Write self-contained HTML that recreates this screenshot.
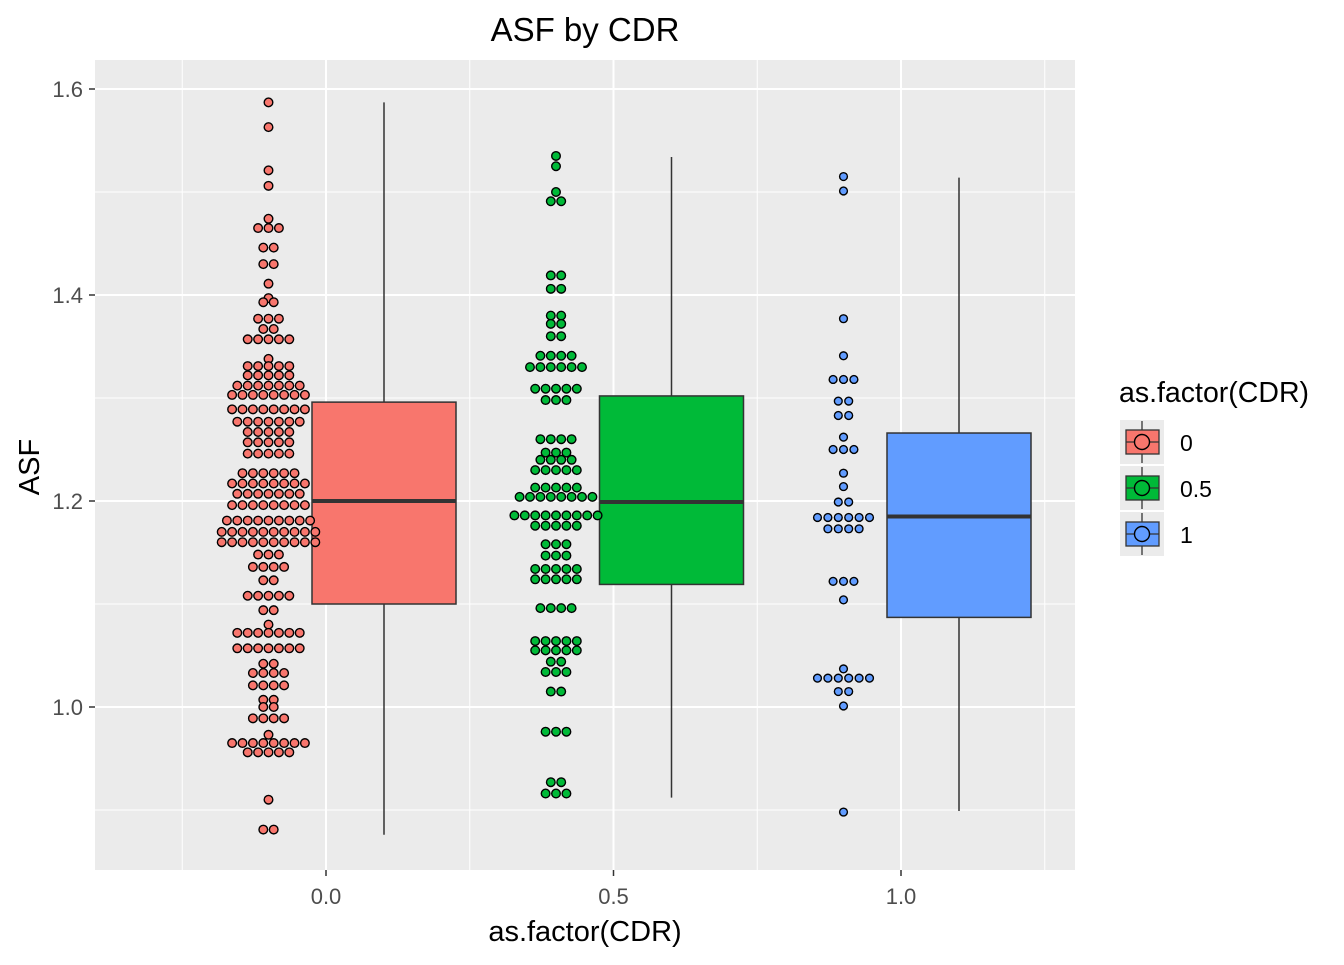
<!DOCTYPE html>
<html><head><meta charset="utf-8"><style>
body{margin:0;background:#fff}
svg{font-family:"Liberation Sans",Arial,sans-serif}
</style></head><body>
<svg id="chart" width="1344" height="960">
<rect x="0" y="0" width="1344" height="960" fill="#fff"/>
<rect x="95" y="60" width="980" height="810" fill="#ebebeb"/>
<g id="grid"></g><g id="marks"></g><g id="axes"></g>
<text x="585" y="41" font-size="33" text-anchor="middle" fill="#000">ASF by CDR</text>
<text x="585" y="941" font-size="29" text-anchor="middle" fill="#000">as.factor(CDR)</text>
<text transform="translate(39,467) rotate(-90)" font-size="29" text-anchor="middle" fill="#000">ASF</text>
<g id="legend">
<text x="1119" y="402" font-size="28.5" fill="#000">as.factor(CDR)</text>
</g>
</svg>
<script>
const categories = ["0.0","0.5","1.0"];
const legendLabels = ["0","0.5","1"];
const colors = ["#F8766D","#00BA38","#619CFF"];
const yTicks = [1.0,1.2,1.4,1.6];
const yMinor = [0.9,1.1,1.3,1.5];
// box stats: [lowerWhisker, q1, median, q3, upperWhisker]
const box0 = [0.876,1.100,1.200,1.296,1.587];
const box1 = [0.912,1.119,1.199,1.302,1.534];
const box2 = [0.899,1.087,1.185,1.266,1.514];
// dot rows: values and counts
const dotVals0 = [1.587,1.563,1.521,1.506,1.474,1.465,1.446,1.430,1.411,1.397,1.393,1.377,1.367,1.357,1.338,1.331,1.322,1.312,1.303,1.289,1.277,1.267,1.257,1.246,1.227,1.217,1.207,1.196,1.181,1.170,1.160,1.148,1.136,1.123,1.108,1.094,1.080,1.072,1.057,1.042,1.033,1.021,1.007,1.000,0.989,0.973,0.965,0.956,0.910,0.881];
const dotCnt0 = [1,1,1,1,1,3,2,2,1,1,2,3,2,5,1,5,5,7,8,8,7,5,5,5,6,8,7,8,9,10,10,3,4,2,5,2,1,7,7,2,4,4,2,2,4,1,8,5,1,2];
const dotVals1 = [1.535,1.525,1.500,1.491,1.419,1.406,1.380,1.372,1.360,1.341,1.330,1.309,1.298,1.260,1.247,1.240,1.230,1.213,1.204,1.186,1.176,1.158,1.147,1.134,1.124,1.096,1.064,1.055,1.044,1.034,1.015,0.976,0.927,0.916];
const dotCnt1 = [1,1,1,2,2,2,2,2,2,4,6,5,3,4,3,4,5,5,8,9,5,3,3,5,5,4,5,5,2,3,2,3,2,3];
const dotVals2 = [1.515,1.501,1.377,1.341,1.318,1.297,1.283,1.262,1.250,1.227,1.214,1.199,1.184,1.173,1.122,1.104,1.037,1.028,1.015,1.001,0.898];
const dotCnt2 = [1,1,1,1,3,2,2,1,3,1,1,2,6,4,3,1,1,6,2,1,1];

const NS="http://www.w3.org/2000/svg";
function y(v){return 707-(v-1)*1030;}
function x(i){return 326+i*287.5;}
function mk(tag,attrs,parent){const e=document.createElementNS(NS,tag);for(const k in attrs)e.setAttribute(k,attrs[k]);parent.appendChild(e);return e;}
const grid=document.getElementById('grid'),marks=document.getElementById('marks'),axes=document.getElementById('axes');
yMinor.forEach(v=>{const l=mk('line',{x1:95,x2:1075,y1:y(v),y2:y(v),stroke:'#fff','stroke-width':1},grid);

});
[-0.5,0.5,1.5,2.5].forEach(i=>{const l=mk('line',{x1:x(i),x2:x(i),y1:60,y2:870,stroke:'#fff','stroke-width':1},grid);

});
yTicks.forEach(v=>{const l=mk('line',{x1:95,x2:1075,y1:y(v),y2:y(v),stroke:'#fff','stroke-width':2},grid);


const t=mk('line',{x1:89,x2:95,y1:y(v),y2:y(v),stroke:'#333','stroke-width':1.5},axes);


const tx=mk('text',{x:83,y:y(v)+8,'font-size':22,'text-anchor':'end',fill:'#4d4d4d'},axes);tx.textContent=v.toFixed(1);

});
categories.forEach((c,i)=>{const l=mk('line',{x1:x(i),x2:x(i),y1:60,y2:870,stroke:'#fff','stroke-width':2},grid);


const t=mk('line',{x1:x(i),x2:x(i),y1:870,y2:876,stroke:'#333','stroke-width':1.5},axes);


const tx=mk('text',{x:x(i),y:904,'font-size':22,'text-anchor':'middle',fill:'#4d4d4d'},axes);tx.textContent=c;

});
const boxes=[box0,box1,box2],dv=[dotVals0,dotVals1,dotVals2],dc=[dotCnt0,dotCnt1,dotCnt2];
boxes.forEach((b,i)=>{const cx=x(i)+58,g=mk('g',{},marks);


mk('line',{x1:cx,x2:cx,y1:y(b[0]),y2:y(b[1]),stroke:'#333','stroke-width':1.5},g);
mk('line',{x1:cx,x2:cx,y1:y(b[3]),y2:y(b[4]),stroke:'#333','stroke-width':1.5},g);
mk('rect',{x:cx-72,y:y(b[3]),width:144,height:y(b[1])-y(b[3]),fill:colors[i],stroke:'#333','stroke-width':1.5},g);
mk('line',{x1:cx-72,x2:cx+72,y1:y(b[2]),y2:y(b[2]),stroke:'#333','stroke-width':4},g);
const dg=mk('g',{},marks);


const dcx=x(i)-57.5, r=i==2?3.9:4.3, sp=10.4;
dv[i].forEach((v,j)=>{const n=dc[i][j];for(let k=0;k<n;k++){
const c=mk('circle',{cx:dcx+(k-(n-1)/2)*sp,cy:y(v),r:r,fill:colors[i],stroke:'#000','stroke-width':1.4},dg);

}});});
const lg=document.getElementById('legend');
legendLabels.forEach((lab,i)=>{const cy=442+i*46,g=mk('g',{},lg);


mk('rect',{x:1120,y:cy-22,width:44,height:44,fill:'#ebebeb'},g);
mk('line',{x1:1142,x2:1142,y1:cy-21,y2:cy+21,stroke:'#333','stroke-width':1.3},g);
mk('rect',{x:1126,y:cy-12,width:33,height:24,fill:colors[i],stroke:'#333','stroke-width':1.3},g);
mk('line',{x1:1126,x2:1159,y1:cy,y2:cy,stroke:'#333','stroke-width':1.3},g);
mk('circle',{cx:1142,cy:cy,r:7.5,fill:colors[i],stroke:'#000','stroke-width':1.4},g);
const t=mk('text',{x:1180,y:cy+9,'font-size':23,fill:'#000'},g);t.textContent=lab;});
</script>
</body></html>
